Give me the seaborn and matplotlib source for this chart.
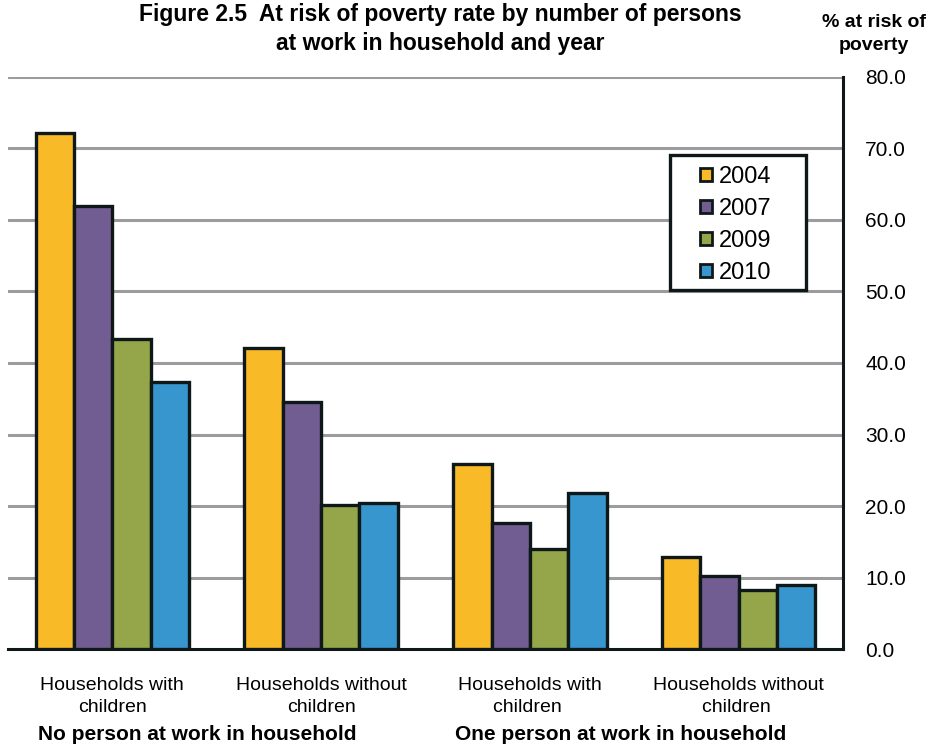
import matplotlib
matplotlib.use("Agg")
import matplotlib.pyplot as plt
from matplotlib.patches import Rectangle
import seaborn as sns
import pandas as pd

# At risk of poverty rate (%) by household type and year
categories = ["Households with\nchildren", "Households without\nchildren",
              "Households with\nchildren ", "Households without\nchildren "]
years = ["2004", "2007", "2009", "2010"]
rate_2004 = [72.2, 42.1, 25.9, 12.9]
rate_2007 = [61.9, 34.6, 17.7, 10.3]
rate_2009 = [43.4, 20.1, 14.0, 8.3]
rate_2010 = [37.3, 20.4, 21.9, 9.0]
group_labels = ["No person at work in household", "One person at work in household"]
y_ticks = [0, 10, 20, 30, 40, 50, 60, 70, 80]

colors = ["#F8BA27", "#725D92", "#95A64A", "#3796CE"]
edge = "#0F1818"

rows = []
for year, vals in zip(years, [rate_2004, rate_2007, rate_2009, rate_2010]):
    for cat, v in zip(categories, vals):
        rows.append({"category": cat, "year": year, "rate": v})
df = pd.DataFrame(rows)

sns.set_style("white")
plt.rcParams["font.family"] = ["Liberation Sans", "DejaVu Sans"]
plt.rcParams["text.color"] = "black"
plt.rcParams["xtick.color"] = "black"
plt.rcParams["ytick.color"] = "black"

fig = plt.figure(figsize=(9.31, 7.44), dpi=100)
ax = fig.add_axes([8 / 931, 1 - 649.3 / 744, 835 / 931, 572.6 / 744])

sns.barplot(data=df, x="category", y="rate", hue="year", order=categories,
            hue_order=years, palette=colors, width=0.735, ax=ax,
            edgecolor=edge, linewidth=2.4, saturation=1, zorder=3)

ax.set_xlim(-0.5, 3.5)
ax.set_ylim(0, 80)
ax.set_yticks(y_ticks)
ax.set_yticklabels([f"{t:.1f}" for t in y_ticks], fontsize=15)
ax.yaxis.tick_right()
ax.tick_params(axis="y", length=0, pad=16)
ax.tick_params(axis="x", length=0, pad=20, labelsize=14)
for lbl in ax.get_xticklabels():
    lbl.set_linespacing(1.4)
ax.set_xlabel("")
ax.set_ylabel("")

for y in y_ticks[1:]:
    ax.axhline(y, color="#9C9C9C", linewidth=2.2, zorder=1)

for side in ["left", "top"]:
    ax.spines[side].set_visible(False)
for side in ["right", "bottom"]:
    ax.spines[side].set_color(edge)
    ax.spines[side].set_linewidth(2.2)

# Legend box with generous side padding
frame = Rectangle((670 / 931, 1 - 290 / 744), 136 / 931, 135 / 744,
                  transform=fig.transFigure, facecolor="white", edgecolor=edge,
                  linewidth=2.4, zorder=4, clip_on=False)
ax.add_patch(frame)
leg = ax.legend(loc="center", bbox_to_anchor=(736 / 931, 1 - 225 / 744),
                bbox_transform=fig.transFigure, fontsize=17, frameon=False,
                handlelength=0.5, handleheight=0.5, handletextpad=0.3,
                borderpad=0, labelspacing=0.42)
leg.set_zorder(5)
for h in leg.legend_handles:
    h.set_linewidth(2.0)
    h.set_edgecolor(edge)

# Group captions under the category labels
fig.text(197 / 931, 1 - 735 / 744, group_labels[0], ha="center", va="center",
         fontsize=15, fontweight="bold")
fig.text(621 / 931, 1 - 735 / 744, group_labels[1], ha="center", va="center",
         fontsize=15, fontweight="bold")

fig.text(440 / 931, 1 - 29 / 744,
         "Figure 2.5  At risk of poverty rate by number of persons\nat work in household and year",
         ha="center", va="center", fontsize=16.5, fontweight="bold", linespacing=1.3)
fig.text(874 / 931, 1 - 34 / 744, "% at risk of\npoverty", ha="center", va="center",
         fontsize=14, fontweight="bold", linespacing=1.4)

fig.savefig("out.png", dpi=100)
